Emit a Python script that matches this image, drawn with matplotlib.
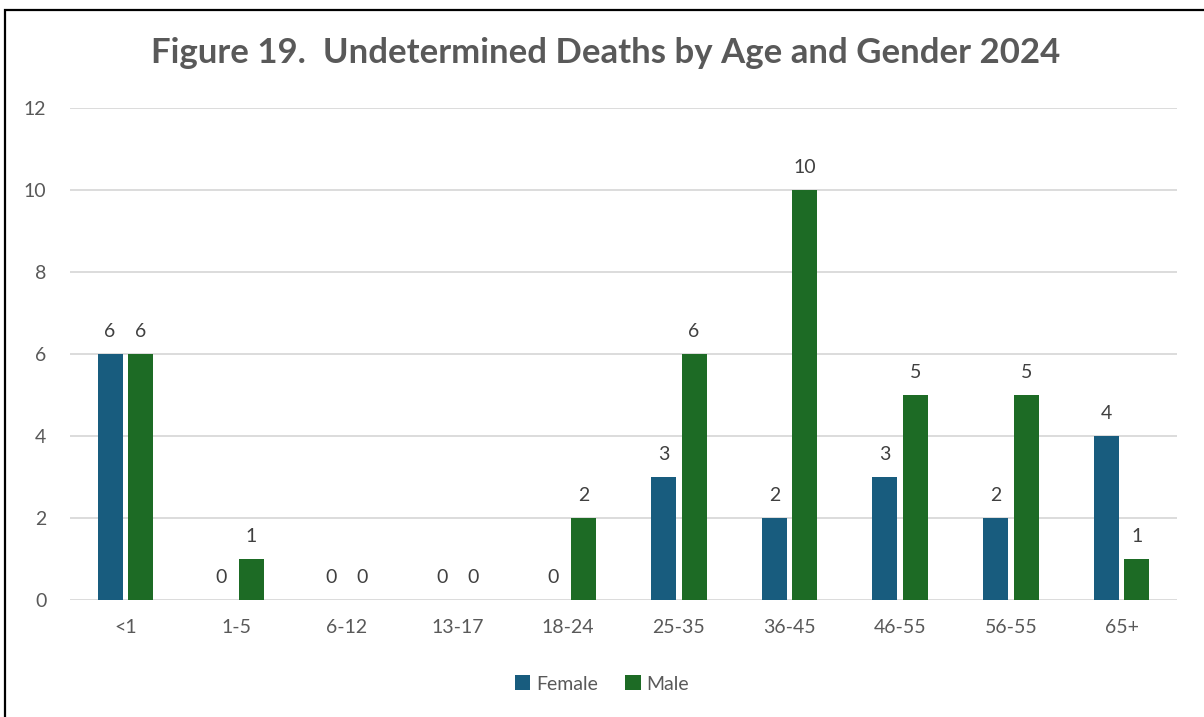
import matplotlib
matplotlib.use("Agg")
import matplotlib.pyplot as plt
import numpy as np
from matplotlib.patches import Rectangle

ages = ["<1", "1-5", "6-12", "13-17", "18-24", "25-35", "36-45", "46-55", "56-55", "65+"]
female = [6, 0, 0, 0, 0, 3, 2, 3, 2, 4]
male = [6, 1, 0, 0, 2, 6, 10, 5, 5, 1]

C_F = "#185c7e"
C_M = "#1d6b25"
plt.rcParams["font.family"] = ["Lato", "DejaVu Sans"]

fig = plt.figure(figsize=(12.04, 7.17), dpi=100)
ax = fig.add_axes([0.0581, 0.1632, 0.9195, 0.6862])

x = np.arange(len(ages))
w = 0.226
off = 0.138
bf = ax.bar(x - off, female, w, color=C_F, label="Female")
bm = ax.bar(x + off, male, w, color=C_M, label="Male")
for bars, vals in ((bf, female), (bm, male)):
    for b, v in zip(bars, vals):
        ax.text(b.get_x() + b.get_width() / 2, v + 0.35, str(v), ha="center", va="bottom",
                fontsize=14, color="#404040")

ax.set_xlim(-0.5, len(ages) - 0.5)
ax.set_ylim(0, 12)
ax.set_yticks(range(0, 13, 2))
ax.set_xticks(x)
ax.set_xticklabels(ages)
ax.tick_params(length=0, labelsize=14, labelcolor="#595959")
ax.tick_params(axis="x", pad=14)
ax.tick_params(axis="y", pad=17)
ax.grid(axis="y", color="#d9d9d9", lw=1.3)
ax.set_axisbelow(True)
for s in ax.spines.values():
    s.set_visible(False)

fig.text(0.503, 0.926, "Figure 19.  Undetermined Deaths by Age and Gender 2024", ha="center", va="center",
         fontsize=25, fontweight="bold", color="#595959")
fig.legend(handles=[bf, bm], loc="center", bbox_to_anchor=(0.5, 0.046), ncol=2, frameon=False,
           fontsize=14, labelcolor="#595959", handlelength=0.8, handleheight=0.8, handletextpad=0.3,
           columnspacing=1.4)

fig.patches.append(Rectangle((5 / 1204, -0.05), 1.2, 1 - 10 / 717 + 0.05, transform=fig.transFigure,
                             fill=False, edgecolor="black", lw=1.6))
fig.savefig("out.png", dpi=100)
